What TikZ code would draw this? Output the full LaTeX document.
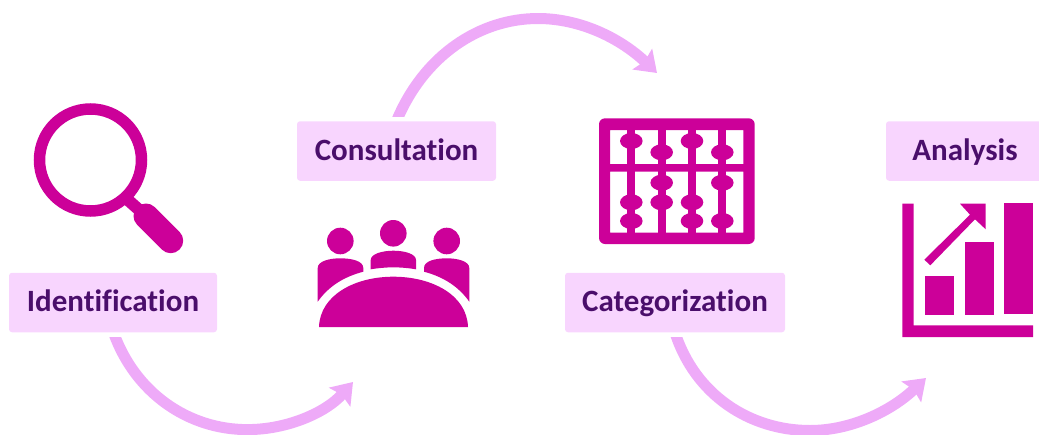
\documentclass[tikz,border=0pt]{standalone}
\usepackage{fontspec}
\setmainfont{Carlito}[Ligatures=NoCommon]
\usetikzlibrary{arrows.meta}
\definecolor{iconcolor}{HTML}{CC0099}
\definecolor{boxcolor}{HTML}{F8D5FE}
\definecolor{textcolor}{HTML}{4A0E6B}
\definecolor{arrowcolor}{HTML}{EEAAF8}
\tikzset{labelbox/.style={fill=boxcolor, text=textcolor, rectangle, rounded corners=3pt, minimum height=59.5pt, inner sep=0pt, text height=24pt, text depth=6pt, font=\fontsize{31}{31}\selectfont\bfseries}}
\tikzset{flowarrow/.style={draw=arrowcolor, line width=11pt, -{Stealth[length=20pt,width=28pt,inset=3pt]}}}
\tikzset{icon/.style={fill=iconcolor, draw=none}}

\begin{document}
\begin{tikzpicture}[x=1pt, y=-1pt]
    \useasboundingbox (0,0) rectangle (1039,434);
    \node[labelbox, minimum width=208pt] at (113,302.5) (identification) {Identification};
    \node[labelbox, minimum width=199pt] at (396.5,151) (consultation) {Consultation};
    \node[labelbox, minimum width=220pt] at (675,302.5) (categorization) {Categorization};
    \node[labelbox, minimum width=158pt] at (965,151) (analysis) {Analysis};
    \coordinate (toconsultation) at (353,382);
    \coordinate (tocategorization) at (657,73);
    \coordinate (toanalysis) at (926,378);
    % arrows, cut flat next to the boxes
    \begin{scope}
        \clip (0,337) rectangle (1039,434);
        \draw[flowarrow] ([xshift=.5pt]identification.south) .. controls (135,392.7) and (188,429.6) .. (247.4,429.6) .. controls (287.7,429.6) and (326.3,412.2) .. (toconsultation);
        \draw[flowarrow] (categorization.south) .. controls (695,395) and (750,430.5) .. (810,430.5) .. controls (850,430.5) and (890,412) .. (toanalysis);
    \end{scope}
    \begin{scope}
        \clip (0,0) rectangle (1039,116);
        \draw[flowarrow] (consultation.north) .. controls (424,55) and (480,18.5) .. (538,18.5) .. controls (580,18.5) and (620,38) .. (tocategorization);
    \end{scope}
    % magnifier
    \draw[iconcolor, line width=11.5pt] (90.5,160) circle (51);
    \draw[iconcolor, line width=12pt] (128,200) -- (146,216);
    \draw[iconcolor, line width=25pt, line cap=round] (146,216) -- (170.7,240.7);
    % people round a table
    \fill[icon] (340.3,241) circle (13.3);
    \fill[icon] (393.3,233.3) circle (13.3);
    \fill[icon] (446.7,241) circle (13.3);
    \fill[icon] (319,327) .. controls (320,295) and (355,276.7) .. (393.3,276.7) .. controls (432,276.7) and (467,295) .. (468,327) -- cycle;
    \fill[icon] (317.7,301.7) -- (317.7,268) .. controls (317.7,261) and (330,258.3) .. (340,258.3) .. controls (352,258.3) and (363.3,261) .. (363.3,268) -- (363.3,271.7) .. controls (343,277) and (328,287) .. (317.7,301.7) -- cycle;
    \fill[icon] (469.3,301.7) -- (469.3,268) .. controls (469.3,261) and (457,258.3) .. (447,258.3) .. controls (435,258.3) and (424,261) .. (424,268) -- (424,271.7) .. controls (444,277) and (459,287) .. (469.3,301.7) -- cycle;
    \fill[icon] (370.7,269.3) -- (370.7,260) .. controls (370.7,254) and (382,250.7) .. (393.3,250.7) .. controls (405,250.7) and (416,254) .. (416,260) -- (416,269.3) .. controls (401,266.7) and (386,266.7) .. (370.7,269.3) -- cycle;
    % abacus
    \fill[icon, even odd rule, rounded corners=6pt] (599,118.3) rectangle (754.7,244)
        [sharp corners] (610,130) rectangle (743.3,164) (610,171.7) rectangle (743.3,232.7);
    \foreach \x in {631.3,661.7,692,722.3}
        \fill[icon] (\x-4,125) rectangle (\x+4,238);
    \foreach \x/\y in {631.3/141,631.3/202.3,631.3/221,661.7/152.3,661.7/182.7,661.7/202.3,692/141,692/202.3,692/221,722.3/152.3,722.3/182.7,722.3/221}
        \fill[icon] (\x,\y) ellipse (11.3 and 8);
    % chart
    \fill[icon] (902.3,203.7) -- (913.7,203.7) -- (913.7,325.3) -- (1033,325.3) -- (1033,337) -- (902.3,337) -- cycle;
    \fill[icon] (925,276) rectangle (954,315);
    \fill[icon] (965,242) rectangle (994,315);
    \fill[icon] (1004,203) rectangle (1033,314);
    \fill[icon] (960,203.7) -- (985.7,203.7) -- (985.7,229.3) -- (975,219.3) -- (930.3,265.3) -- (924.3,259.7) -- (970,214.7) -- cycle;
\end{tikzpicture}
\end{document}
